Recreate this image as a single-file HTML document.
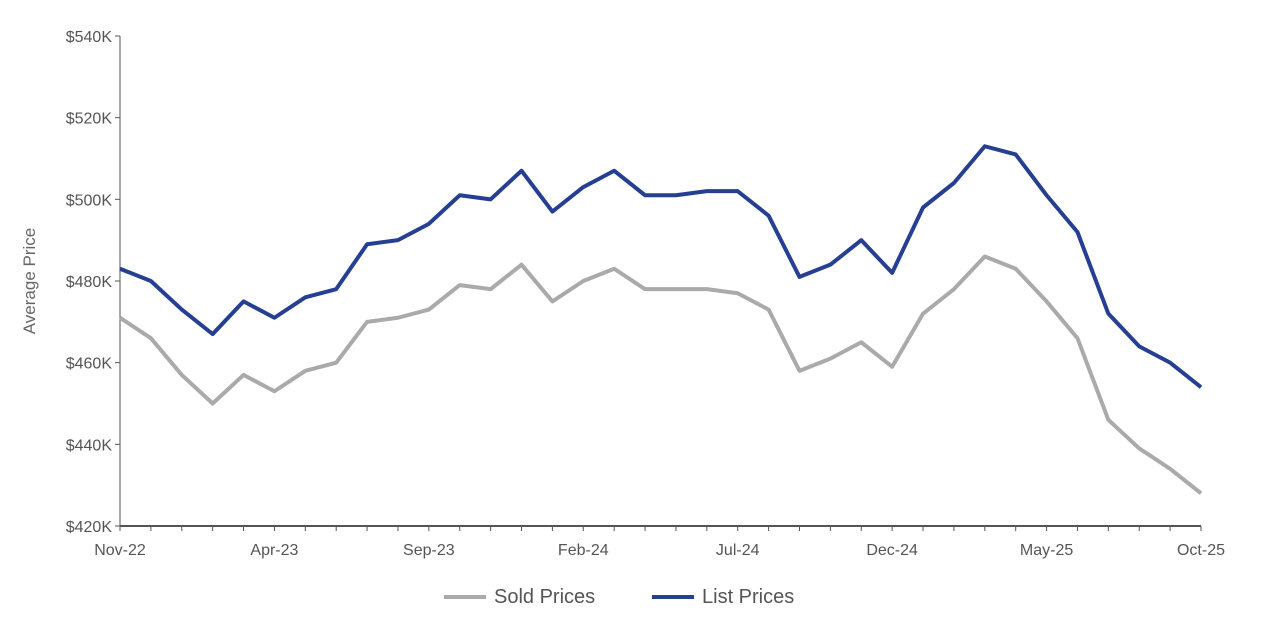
<!DOCTYPE html>
<html><head><meta charset="utf-8"><style>
body{margin:0;background:#fff;font-family:"Liberation Sans",sans-serif;}
svg text{font-family:"Liberation Sans",sans-serif;}
</style></head><body>
<svg id="chart" width="1264" height="639">
<g id="axes"></g><g id="lines"></g>
<text x="35" y="281" transform="rotate(-90 35 281)" text-anchor="middle" font-size="17" fill="#666">Average Price</text>
<g>
<line x1="444" y1="597" x2="486" y2="597" stroke="#aaaaaa" stroke-width="4"/>
<text x="494" y="603" font-size="20" fill="#555">Sold Prices</text>
<line x1="652" y1="597" x2="694" y2="597" stroke="#263f93" stroke-width="4"/>
<text x="702" y="603" font-size="20" fill="#555">List Prices</text>
</g>
</svg>
<script>
const xLabels=["Nov-22","Apr-23","Sep-23","Feb-24","Jul-24","Dec-24","May-25","Oct-25"];
const yTicks=[420,440,460,480,500,520,540];
const listPrices=[483,480,473,467,475,471,476,478,489,490,494,501,500,507,497,503,507,501,501,502,502,496,481,484,490,482,498,504,513,511,501,492,472,464,460,454];
const soldPrices=[471,466,457,450,457,453,458,460,470,471,473,479,478,484,475,480,483,478,478,478,477,473,458,461,465,459,472,478,486,483,475,466,446,439,434,428];
const X0=120,X1=1201,Y0=526,Y1=36;
const n=listPrices.length;
const xs=i=>X0+(X1-X0)*i/(n-1);
const ys=v=>Y0-(v-420)*(Y0-Y1)/120;
const NS="http://www.w3.org/2000/svg";
const axes=document.getElementById('axes'),lines=document.getElementById('lines');
function mk(tag,attrs,parent){const e=document.createElementNS(NS,tag);for(const k in attrs)e.setAttribute(k,attrs[k]);parent.appendChild(e);return e;}
let a=mk('line',{x1:X0,y1:Y1,x2:X0,y2:Y0,stroke:'#555','stroke-width':1},axes);


a=mk('line',{x1:X0,y1:Y0,x2:X1,y2:Y0,stroke:'#555','stroke-width':2},axes);


yTicks.forEach(v=>{
 mk('line',{x1:X0-5,y1:ys(v),x2:X0,y2:ys(v),stroke:'#555'},axes);
 const t=mk('text',{x:X0-8,y:ys(v)+6,'text-anchor':'end','font-size':16,fill:'#555'},axes);
 t.textContent='$'+v+'K';
 
 
});
for(let i=0;i<n;i++){mk('line',{x1:xs(i),y1:Y0,x2:xs(i),y2:Y0+5,stroke:'#555'},axes);}
xLabels.forEach((l,k)=>{
 const t=mk('text',{x:xs(k*5),y:Y0+29,'text-anchor':'middle','font-size':16,fill:'#555'},axes);
 t.textContent=l;
 
 
});
function series(vals,color,name){
 const p=mk('polyline',{points:vals.map((v,i)=>xs(i)+','+ys(v)).join(' '),fill:'none',stroke:color,'stroke-width':4,'stroke-linejoin':'round'},lines);
 
 
}
series(soldPrices,'#aaaaaa','sold-prices-line');
series(listPrices,'#263f93','list-prices-line');
</script>
</body></html>
